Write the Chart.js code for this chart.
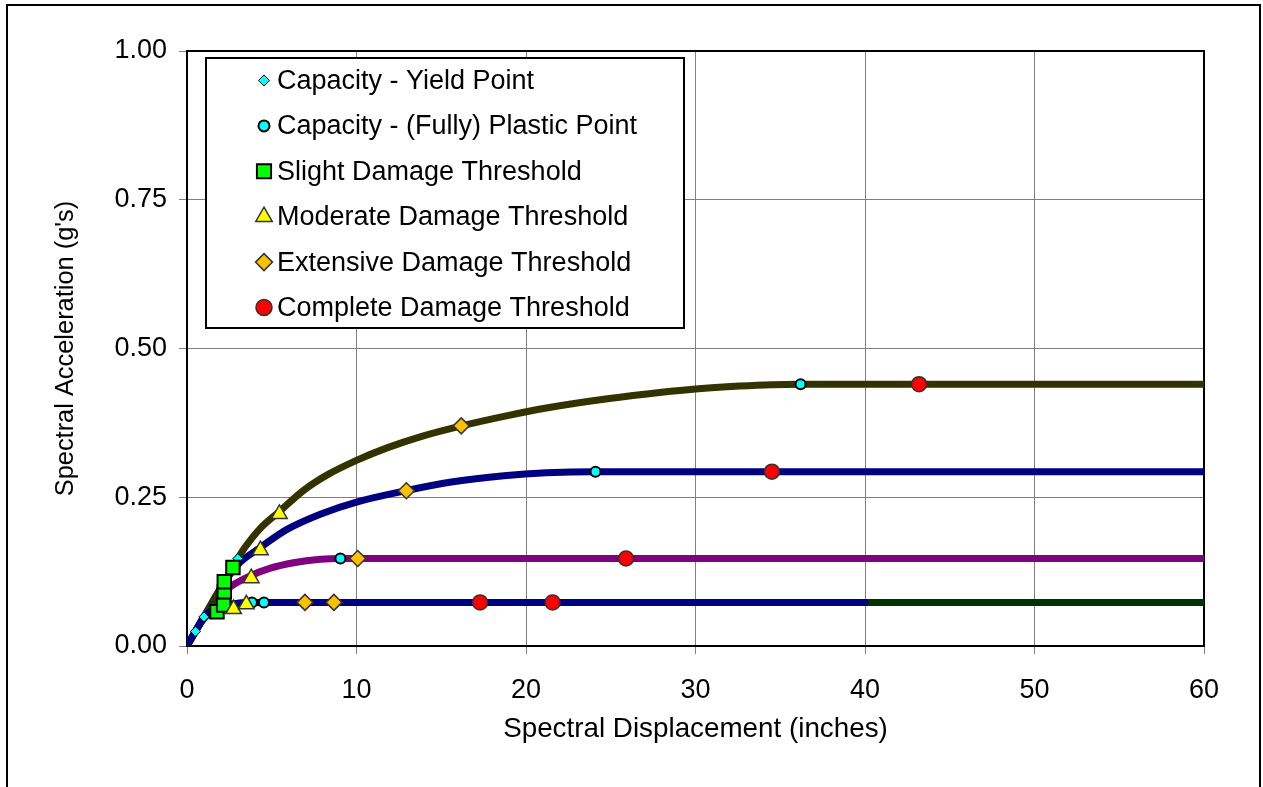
<!DOCTYPE html>
<html>
<head>
<meta charset="utf-8">
<title>Capacity curves</title>
<script src="https://cdn.jsdelivr.net/npm/chart.js@4.4.0/dist/chart.umd.min.js"></script>
<style>
  body { margin: 0; background: #fff; }
  #wrap { width: 1263px; height: 787px; position: relative; }
</style>
</head>
<body>
<div id="wrap"><canvas id="capacity" width="1263" height="787"></canvas></div>
<script>
// capacity curves (displacement in inches, acceleration in g)
const curveAX = [0, 1, 2, 3, 3.4, 4.3, 5.45, 6.9, 8.3, 10, 11.8, 13.8, 16.2, 18.7, 21.2, 24.8, 28, 30, 32.6, 34.5, 36.2, 60];
const curveAY = [0, 0.049, 0.098, 0.147, 0.165, 0.197, 0.226, 0.262, 0.288, 0.312, 0.333, 0.352, 0.37, 0.386, 0.4, 0.4155, 0.4265, 0.432, 0.4368, 0.4392, 0.44, 0.44];
const curveBX = [0, 1, 2, 3, 4.3, 5.9, 7.9, 10, 12.9, 15.7, 18.7, 21.2, 24.1, 60];
const curveBY = [0, 0.049, 0.098, 0.137, 0.165, 0.196, 0.222, 0.242, 0.261, 0.276, 0.286, 0.291, 0.293, 0.293];
const curveCX = [0, 1, 1.5, 2.36, 3.74, 4.92, 6.29, 7.87, 9.05, 60];
const curveCY = [0, 0.049, 0.068, 0.095, 0.118, 0.131, 0.14, 0.1457, 0.147, 0.147];
const curveDX = [0, 0.5, 1, 1.77, 2.56, 3.54, 4.54, 40];
const curveDY = [0, 0.0245, 0.049, 0.064, 0.0705, 0.0727, 0.0733, 0.0733];
const curveEX = [0, 0.5, 1, 1.8, 2.8, 3.83, 60];
const curveEY = [0, 0.0245, 0.046, 0.063, 0.071, 0.0733, 0.0733];

// points on the curves
const yieldX = [0.5, 1.0, 3.0];
const yieldY = [0.0245, 0.049, 0.147];
const plasticX = [3.83, 4.54, 9.05, 24.1, 36.2];
const plasticY = [0.0733, 0.0733, 0.147, 0.293, 0.44];
const slightX = [1.77, 2.16, 2.2, 2.2, 2.71];
const slightY = [0.0577, 0.069, 0.0913, 0.108, 0.132];
const moderateX = [2.75, 3.5, 3.79, 4.33, 5.45];
const moderateY = [0.062, 0.07, 0.114, 0.161, 0.222];
const extensiveX = [6.96, 8.67, 10.07, 12.94, 16.18];
const extensiveY = [0.0733, 0.0733, 0.147, 0.261, 0.37];
const completeX = [17.29, 21.57, 25.9, 34.51, 43.19];
const completeY = [0.0733, 0.0733, 0.147, 0.293, 0.44];

const xTicks = [0, 10, 20, 30, 40, 50, 60];
const yTicks = [0, 0.25, 0.5, 0.75, 1.0];

const FONT = "'Liberation Sans', Arial, sans-serif";

function pts(xs, ys) {
    return xs.map((x, i) => ({ x: x, y: ys[i] }));
}

function curve(xs, ys, color, order) {
    return {
        label: "",
        data: pts(xs, ys),
        showLine: true,
        borderColor: color,
        backgroundColor: color,
        borderWidth: 7,
        borderCapStyle: "round",
        borderJoinStyle: "round",
        cubicInterpolationMode: "monotone",
        pointRadius: 0,
        order: order,
    };
}

const markers = [
    { label: "Capacity - Yield Point", xs: yieldX, ys: yieldY, style: "rectRot", fill: "#00FFFF", line: "#000000", bw: 1, r: 5, lr: 5.5 },
    { label: "Capacity - (Fully) Plastic Point", xs: plasticX, ys: plasticY, style: "circle", fill: "#00FFFF", line: "#000000", bw: 2, r: 5, lr: 5.5 },
    { label: "Slight Damage Threshold", xs: slightX, ys: slightY, style: "rect", fill: "#00FF00", line: "#000000", bw: 2, r: 9.5, lr: 10 },
    { label: "Moderate Damage Threshold", xs: moderateX, ys: moderateY, style: "triangle", fill: "#FFFF00", line: "#333333", bw: 1.5, r: 9, lr: 9.5 },
    { label: "Extensive Damage Threshold", xs: extensiveX, ys: extensiveY, style: "rectRot", fill: "#FFC000", line: "#333333", bw: 1.5, r: 8, lr: 8.5 },
    { label: "Complete Damage Threshold", xs: completeX, ys: completeY, style: "circle", fill: "#FF0000", line: "#333333", bw: 1.5, r: 7.5, lr: 8 },
];

const datasets = markers.map((m, i) => ({
    label: m.label,
    data: pts(m.xs, m.ys),
    showLine: false,
    pointStyle: m.style,
    pointRadius: m.r,
    pointBackgroundColor: m.fill,
    pointBorderColor: m.line,
    pointBorderWidth: m.bw,
    order: 6 - i,
}));

// lowest order is drawn on top: short navy curve, then olive, navy, purple, green
datasets.push(curve(curveDX, curveDY, "#000080", 7));
datasets.push(curve(curveAX, curveAY, "#333300", 8));
datasets.push(curve(curveBX, curveBY, "#000080", 9));
datasets.push(curve(curveCX, curveCY, "#800080", 10));
datasets.push(curve(curveEX, curveEY, "#003300", 11));

const frame = {
    id: "frame",
    beforeDatasetsDraw(chart) {
        const { ctx, chartArea: a } = chart;
        ctx.save();
        ctx.strokeStyle = "#000";
        ctx.lineWidth = 2;
        ctx.strokeRect(a.left, a.top, a.right - a.left, a.bottom - a.top);
        ctx.restore();
    },
    afterDraw(chart) {
        const ctx = chart.ctx;
        ctx.save();
        // outer border
        ctx.strokeStyle = "#000";
        ctx.lineWidth = 2;
        ctx.strokeRect(7, 5, 1253, 820);

        // legend box
        const box = { left: 206, top: 58, right: 684, bottom: 328 };
        ctx.fillStyle = "#fff";
        ctx.fillRect(box.left, box.top, box.right - box.left, box.bottom - box.top);
        ctx.lineWidth = 2;
        ctx.strokeStyle = "#000";
        ctx.strokeRect(box.left, box.top, box.right - box.left, box.bottom - box.top);

        ctx.font = "27px " + FONT;
        ctx.textBaseline = "middle";
        ctx.textAlign = "left";
        markers.forEach((m, i) => {
            const y = 80.5 + i * 45.4;
            ctx.fillStyle = m.fill;
            ctx.strokeStyle = m.line;
            ctx.lineWidth = m.bw;
            Chart.helpers.drawPoint(ctx, { pointStyle: m.style, radius: m.lr, rotation: 0, borderWidth: m.bw }, 264, y);
            ctx.fillStyle = "#000";
            ctx.fillText(m.label, 277, y + 1);
        });
        ctx.restore();
    },
};

new Chart(document.getElementById("capacity"), {
    type: "scatter",
    data: { datasets: datasets },
    plugins: [frame],
    options: {
        responsive: false,
        animation: false,
        devicePixelRatio: 1,
        layout: { padding: { top: 51, right: 59, left: 0, bottom: 0 } },
        plugins: {
            legend: { display: false },
            tooltip: { enabled: false },
        },
        scales: {
            x: {
                type: "linear",
                min: 0,
                max: 60,
                afterFit: (s) => { s.height = 141; },
                afterBuildTicks: (s) => { s.ticks = xTicks.map((v) => ({ value: v })); },
                grid: { color: "#808080", tickColor: "#808080", tickLength: 8, lineWidth: 1 },
                border: { color: "#000", width: 2 },
                ticks: { color: "#000", padding: 20, font: { family: FONT, size: 27 }, maxRotation: 0 },
                title: {
                    display: true,
                    text: "Spectral Displacement (inches)",
                    color: "#000",
                    font: { family: FONT, size: 27.8 },
                    padding: { top: 0, bottom: 41 },
                },
            },
            y: {
                type: "linear",
                min: 0,
                max: 1,
                afterFit: (s) => { s.width = 187; },
                afterBuildTicks: (s) => { s.ticks = yTicks.map((v) => ({ value: v })); },
                grid: { color: "#808080", tickColor: "#808080", tickLength: 8, lineWidth: 1 },
                border: { color: "#000", width: 2 },
                ticks: {
                    color: "#000",
                    padding: 12,
                    font: { family: FONT, size: 27 },
                    callback: (v) => v.toFixed(2),
                },
                title: {
                    display: true,
                    text: "Spectral Acceleration (g's)",
                    color: "#000",
                    font: { family: FONT, size: 25.4 },
                    padding: { top: 51, bottom: 0 },
                },
            },
        },
    },
});
</script>
</body>
</html>
